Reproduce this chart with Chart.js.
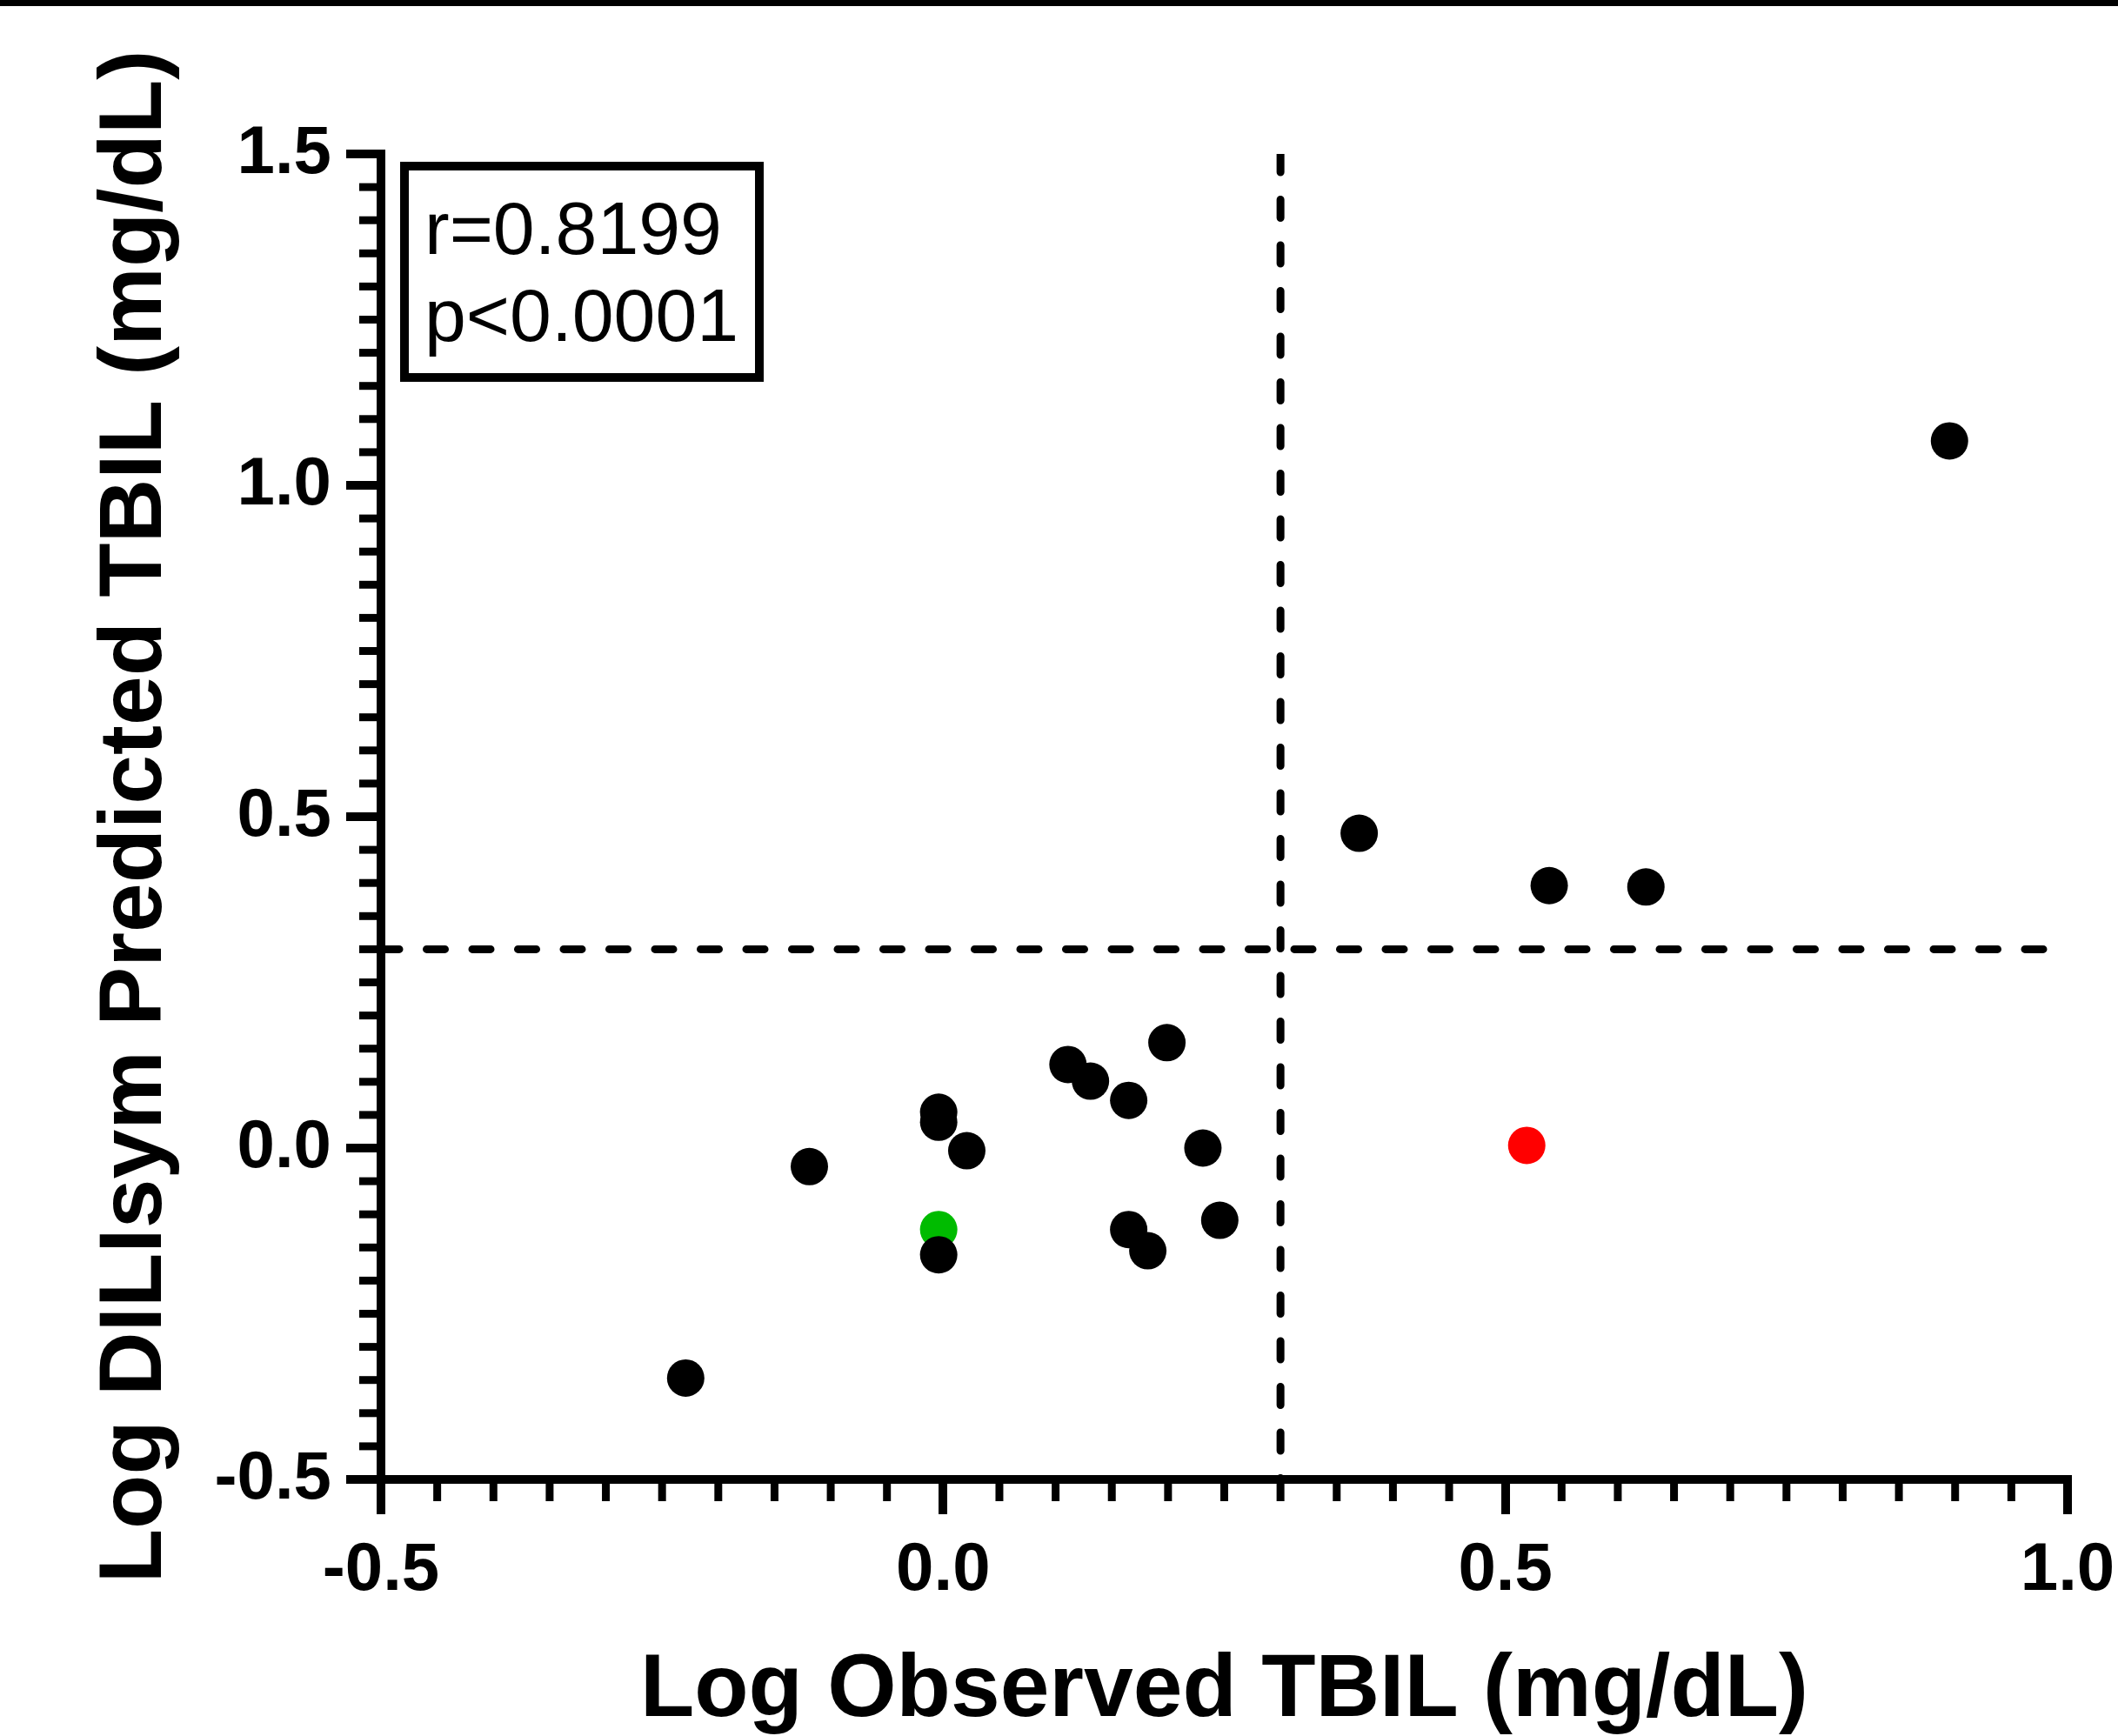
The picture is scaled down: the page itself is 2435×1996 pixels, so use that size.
<!DOCTYPE html>
<html>
<head>
<meta charset="utf-8">
<script src="https://cdn.jsdelivr.net/npm/chart.js@4.4.0/dist/chart.umd.min.js"></script>
<style>
    html, body { margin: 0; padding: 0; background: #ffffff; }
    canvas { display: block; }
</style>
</head>
<body>
<canvas id="tbilChart" width="2435" height="1996"></canvas>
<script>
// log10 TBIL (mg/dL): observed (x) vs DILIsym predicted (y)
const blackObserved  = [0.895, 0.370, 0.539, 0.625, -0.229, -0.119, -0.004, -0.004, 0.021, -0.004, 0.111, 0.131, 0.199, 0.165, 0.231, 0.246, 0.165, 0.182];
const blackPredicted = [1.067, 0.475, 0.396, 0.394, -0.347, -0.028, 0.054, 0.039, -0.004, -0.161, 0.126, 0.101, 0.159, 0.072, 0.000, -0.109, -0.123, -0.155];
const greenObserved  = [-0.004];
const greenPredicted = [-0.123];
const redObserved    = [0.519];
const redPredicted   = [0.004];

const xTickLabels = ['-0.5', '0.0', '0.5', '1.0'];
const yTickLabels = ['-0.5', '0.0', '0.5', '1.0', '1.5'];
const cutoffValue = 0.3;
const statsLines = ['r=0.8199', 'p<0.0001'];

const FONT = '"Liberation Sans", Arial, Helvetica, sans-serif';
Chart.defaults.font.family = FONT;
Chart.defaults.color = '#000';

function toPoints(xs, ys) {
    return xs.map((x, i) => ({ x: x, y: ys[i] }));
}

// Prism-style minor ticks, top rule and r/p box
const extras = {
    id: 'extras',
    beforeDraw(chart) {
        const ctx = chart.ctx;
        ctx.save();
        ctx.fillStyle = '#000';
        ctx.fillRect(0, 0, chart.width, 7);
        ctx.restore();
    },
    afterDraw(chart) {
        const { ctx, chartArea, scales } = chart;
        ctx.save();
        ctx.strokeStyle = '#000';
        ctx.lineWidth = 9;
        ctx.lineCap = 'butt';

        // minor ticks every 0.05
        const xs = scales.x, ys = scales.y;
        const nx = Math.round((xs.max - xs.min) / 0.05);
        for (let i = 1; i < nx; i++) {
            if (i % 10 === 0) continue;
            const px = xs.getPixelForValue(xs.min + i * 0.05);
            ctx.beginPath();
            ctx.moveTo(px, chartArea.bottom + 5);
            ctx.lineTo(px, chartArea.bottom + 25);
            ctx.stroke();
        }
        const ny = Math.round((ys.max - ys.min) / 0.05);
        for (let i = 1; i < ny; i++) {
            if (i % 10 === 0) continue;
            const py = ys.getPixelForValue(ys.min + i * 0.05);
            ctx.beginPath();
            ctx.moveTo(chartArea.left - 5, py);
            ctx.lineTo(chartArea.left - 25, py);
            ctx.stroke();
        }

        // stats box
        const bx = chartArea.left + 27, by = chartArea.top + 14;
        ctx.lineWidth = 10;
        ctx.strokeRect(bx, by, 408, 243);
        ctx.fillStyle = '#000';
        ctx.font = '86px ' + FONT;
        ctx.textAlign = 'left';
        ctx.textBaseline = 'alphabetic';
        statsLines.forEach((line, i) => {
            ctx.fillText(line, bx + 23, by + 101 + i * 100);
        });
        ctx.restore();
    }
};

const ctx = document.getElementById('tbilChart').getContext('2d');
const chart = new Chart(ctx, {
    type: 'scatter',
    data: {
        datasets: [
            {
                label: 'Black',
                data: toPoints(blackObserved, blackPredicted),
                backgroundColor: '#000000',
                borderWidth: 0,
                pointRadius: 21.5
            },
            {
                label: 'Red',
                data: toPoints(redObserved, redPredicted),
                backgroundColor: '#ff0000',
                borderWidth: 0,
                pointRadius: 21.5
            },
            {
                label: 'Green',
                data: toPoints(greenObserved, greenPredicted),
                backgroundColor: '#00bb00',
                borderWidth: 0,
                pointRadius: 21.5
            },
            {
                label: 'Observed cutoff',
                data: [{ x: cutoffValue, y: 1.5 }, { x: cutoffValue, y: -0.5 }],
                showLine: true,
                borderColor: '#000',
                borderWidth: 9,
                borderDash: [21, 31.5],
                borderCapStyle: 'round',
                pointRadius: 0,
                fill: false
            },
            {
                label: 'Predicted cutoff',
                data: [{ x: -0.5, y: cutoffValue }, { x: 1.0, y: cutoffValue }],
                showLine: true,
                borderColor: '#000',
                borderWidth: 9,
                borderDash: [21, 31.5],
                borderCapStyle: 'round',
                pointRadius: 0,
                fill: false
            }
        ]
    },
    options: {
        responsive: false,
        animation: false,
        devicePixelRatio: 1,
        events: [],
        layout: {
            padding: { top: 177, right: 58, left: 0, bottom: 0 }
        },
        plugins: {
            legend: { display: false },
            tooltip: { enabled: false }
        },
        scales: {
            x: {
                type: 'linear',
                position: 'bottom',
                min: -0.5,
                max: 1.0,
                afterFit: (scale) => {
                    scale.height = 295;
                    scale.paddingLeft = 0;
                    scale.paddingRight = 0;
                },
                border: { display: true, color: '#000', width: 10 },
                grid: {
                    drawOnChartArea: false,
                    drawTicks: true,
                    tickLength: 40,
                    tickWidth: 10,
                    lineWidth: 10,
                    tickColor: '#000'
                },
                ticks: {
                    stepSize: 0.5,
                    padding: 19,
                    maxRotation: 0,
                    autoSkip: false,
                    color: '#000',
                    font: { size: 78, weight: 'bold' },
                    callback: (value, index) => xTickLabels[index]
                },
                title: {
                    display: true,
                    text: 'Log Observed TBIL (mg/dL)',
                    color: '#000',
                    padding: { top: 0, bottom: 0 },
                    font: { size: 102, weight: 'bold', lineHeight: 1 }
                }
            },
            y: {
                type: 'linear',
                position: 'left',
                min: -0.5,
                max: 1.5,
                afterFit: (scale) => {
                    scale.width = 438;
                    scale.paddingTop = 0;
                    scale.paddingBottom = 0;
                },
                border: { display: true, color: '#000', width: 10 },
                grid: {
                    drawOnChartArea: false,
                    drawTicks: true,
                    tickLength: 40,
                    tickWidth: 10,
                    lineWidth: 10,
                    tickColor: '#000'
                },
                ticks: {
                    stepSize: 0.5,
                    padding: 17,
                    autoSkip: false,
                    color: '#000',
                    font: { size: 78, weight: 'bold' },
                    callback: (value, index) => yTickLabels[index]
                },
                title: {
                    display: true,
                    text: 'Log DILIsym Predicted TBIL (mg/dL)',
                    color: '#000',
                    padding: { top: 106, bottom: 0 },
                    font: { size: 102, weight: 'bold', lineHeight: 1 }
                }
            }
        }
    },
    plugins: [extras]
});
</script>
</body>
</html>
